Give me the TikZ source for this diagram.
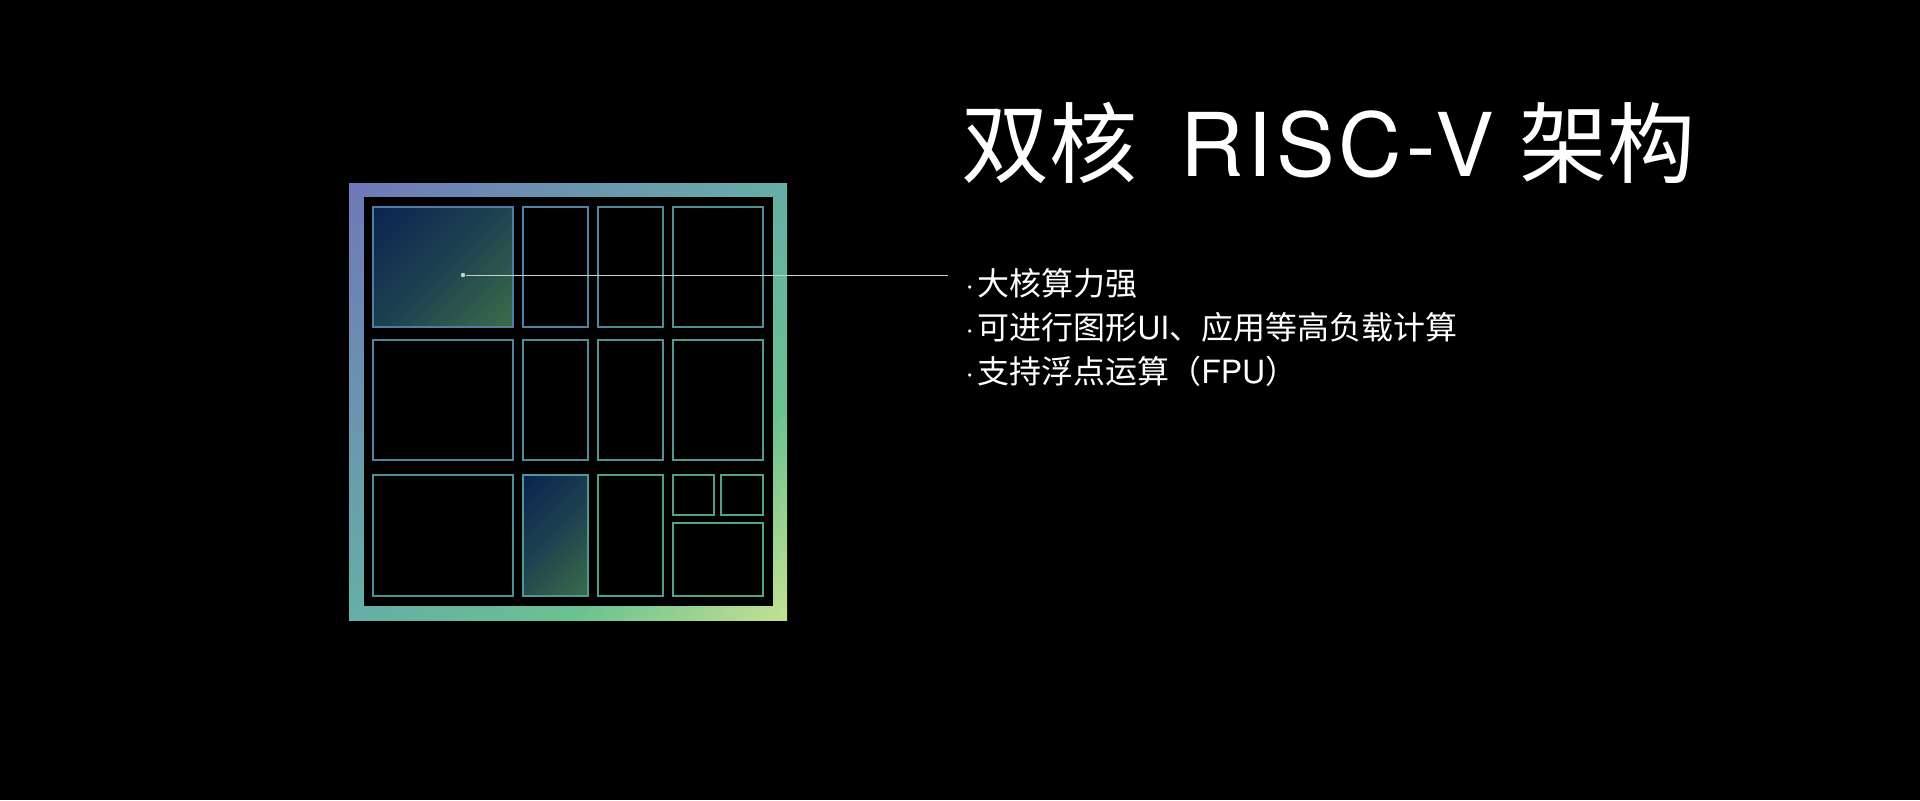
\documentclass[tikz,border=0pt]{standalone}
\usepackage{fontspec}
\setmainfont{Noto Sans CJK SC}
\newfontfamily\latin{TeX Gyre Heros}
\newfontfamily\latinwide[LetterSpace=4.5]{TeX Gyre Heros}
\definecolor{framestart}{HTML}{6F78B8}
\definecolor{framemid}{HTML}{66AEA6}
\definecolor{framegreen}{HTML}{6AC290}
\definecolor{frameend}{HTML}{C2E092}
\definecolor{corestart}{HTML}{0A2450}
\definecolor{coremid}{HTML}{1E4250}
\definecolor{coreend}{HTML}{3C6C48}
\definecolor{cellstart}{HTML}{5072AC}
\definecolor{cellend}{HTML}{52AA84}
\definecolor{leadcolor}{HTML}{C6D2D2}
\pgfdeclarehorizontalshading{frameshade}{100bp}{color(0bp)=(framestart); color(15bp)=(framestart); color(50bp)=(framemid); color(68bp)=(framegreen); color(85bp)=(frameend); color(100bp)=(frameend)}
\pgfdeclarehorizontalshading{coreshade}{100bp}{color(0bp)=(corestart); color(15bp)=(corestart); color(50bp)=(coremid); color(85bp)=(coreend); color(100bp)=(coreend)}
\tikzset{
  cell/.style={line width=0.6pt},
  dot/.style={circle, fill=leadcolor, inner sep=0pt, minimum size=2.2pt},
  lead/.style={leadcolor, line width=0.5pt},
  title/.style={white, anchor=base west, inner sep=0pt, font=\fontsize{44}{52}\selectfont},
  item/.style={white, anchor=base west, inner sep=0pt, font=\fontsize{16}{20}\selectfont}
}
\begin{document}
\begin{tikzpicture}[x=0.5pt, y=-0.5pt]
      \fill[black] (0,0) rectangle (1920,800);
      \useasboundingbox (0,0) rectangle (1920,800);
      \shade[shading=frameshade, shading angle=-45] (349,183) rectangle (787,620);
      \fill[black] (364,197) rectangle (773,606);
      \foreach \xa/\ya/\xb/\yb/\p in {523/207/588/327/31, 598/207/663/327/41, 673/207/763/327/52,
          373/340/513/460/34, 523/340/588/460/48, 598/340/663/460/58, 673/340/763/460/69,
          373/475/513/596/51, 598/475/663/596/75,
          673/475/714/515/78, 721/475/763/515/84, 673/523/763/596/90}
        \draw[cell, draw=cellend!\p!cellstart] (\xa,\ya) rectangle (\xb,\yb);
      \shadedraw[cell, shading=coreshade, shading angle=-45, draw=cellend!17!cellstart] (373,207) rectangle (513,327);
      \shadedraw[cell, shading=coreshade, shading angle=-45, draw=cellend!66!cellstart] (523,475) rectangle (588,596);
      \node[dot] (coredot) at (463,275) {};
      \coordinate (tip) at (948,275);
      \draw[lead] (coredot) -- (tip);
      \node[title] (heading) at (961,176) {双核 \hspace{11.5pt}{\latinwide RISC-V} \hspace{3pt}架构};
      \node[item] (strong) at (965,295) {{\latin ·}\hspace{1.5pt}大核算力强};
      \node[item] (heavy) at (965,339) {{\latin ·}\hspace{1.5pt}可进行图形{\latin UI}、应用等高负载计算};
      \node[item] (fpu) at (965,383) {{\latin ·}\hspace{1.5pt}支持浮点运算（{\latin FPU}）};
    \end{tikzpicture}
\end{document}
